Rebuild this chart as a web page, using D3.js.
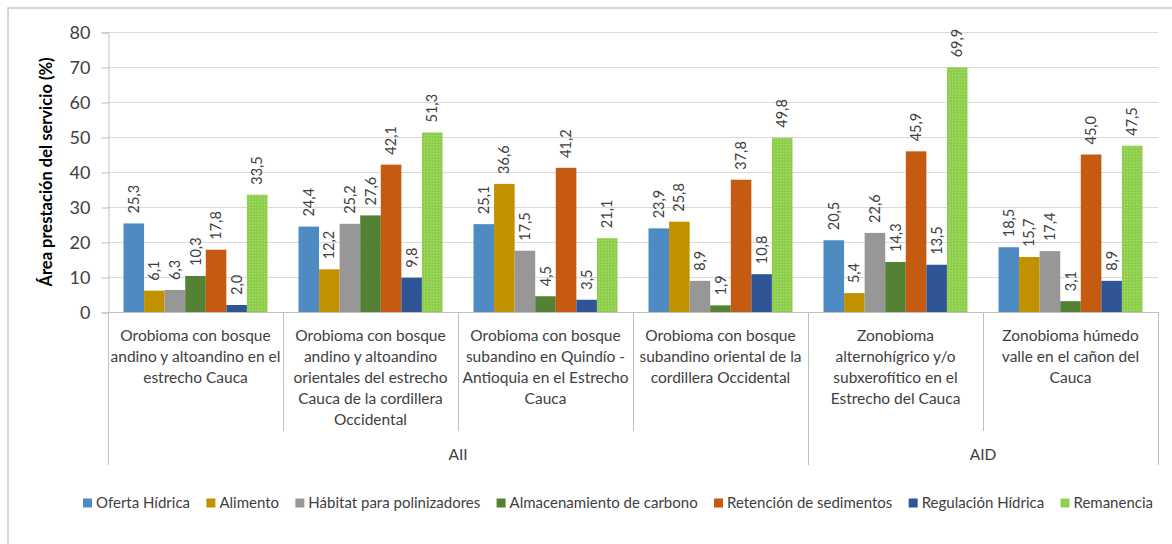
<!DOCTYPE html>
<html>
<head>
<meta charset="utf-8">
<script src="https://cdn.jsdelivr.net/npm/d3@7"></script>
<style>
  body { margin: 0; background: #fff; }
  svg { display: block; }
  text { font-family: Lato, "Open Sans", sans-serif; }
</style>
</head>
<body>
<svg id="svg" width="1172" height="544"></svg>
<script>
// categories (wrapped the way the picture wraps them)
var categories = [
  ["Orobioma con bosque", "andino y altoandino en el", "estrecho Cauca"],
  ["Orobioma con bosque", "andino y altoandino", "orientales del estrecho", "Cauca de la cordillera", "Occidental"],
  ["Orobioma con bosque", "subandino en Quindío -", "Antioquia en el Estrecho", "Cauca"],
  ["Orobioma con bosque", "subandino oriental de la", "cordillera Occidental"],
  ["Zonobioma", "alternohígrico y/o", "subxerofítico en el", "Estrecho del Cauca"],
  ["Zonobioma húmedo", "valle en el cañon del", "Cauca"]
];
var groups = ["AII", "AID"];
var groupSize = [4, 2];

var series = ["Oferta Hídrica", "Alimento", "Hábitat para polinizadores", "Almacenamiento de carbono",
              "Retención de sedimentos", "Regulación Hídrica", "Remanencia"];
var colors = ["#4f8bc3", "#c29100", "#979797", "#548235", "#c55a11", "#2f5597", "#92d050"];

var oferta     = [25.3, 24.4, 25.1, 23.9, 20.5, 18.5];
var alimento   = [6.1, 12.2, 36.6, 25.8, 5.4, 15.7];
var habitat    = [6.3, 25.2, 17.5, 8.9, 22.6, 17.4];
var carbono    = [10.3, 27.6, 4.5, 1.9, 14.3, 3.1];
var sedimentos = [17.8, 42.1, 41.2, 37.8, 45.9, 45.0];
var regulacion = [2.0, 9.8, 3.5, 10.8, 13.5, 8.9];
var remanencia = [33.5, 51.3, 21.1, 49.8, 69.9, 47.5];
var values = [oferta, alimento, habitat, carbono, sedimentos, regulacion, remanencia];

var yTicks = [0, 10, 20, 30, 40, 50, 60, 70, 80];

var svg = d3.select("#svg");
// plot box ("top" is taken by window.top, so prefixed names)
var pLeft = 108, pRight = 1158, pTop = 32, pBottom = 312;

// frame (only top and left edges show in the picture)
svg.append("path").attr("d", "M8,544V8H1172")
  .attr("fill", "none").attr("stroke", "#c8c8c8").attr("stroke-width", 1.5);

// hatch for Remanencia
var pat = svg.append("defs").append("pattern")
  .attr("id", "rem").attr("width", 3).attr("height", 3).attr("patternUnits", "userSpaceOnUse");
pat.append("rect").attr("width", 3).attr("height", 3).attr("fill", "#92d050");
pat.append("rect").attr("width", 1).attr("height", 1).attr("fill", "#a9dc70");
pat.append("rect").attr("x", 2).attr("y", 2).attr("width", 1).attr("height", 1).attr("fill", "#86c544");

var y = d3.scaleLinear().domain([0, 80]).range([pBottom, pTop]);
var x0 = d3.scaleBand().domain(d3.range(categories.length)).range([pLeft, pRight]);
var x1 = d3.scaleBand().domain(d3.range(series.length)).range([15.5, x0.bandwidth() - 15.5]);

// gridlines
svg.append("g").selectAll("line").data(yTicks.slice(1)).enter().append("line")
  .attr("x1", pLeft).attr("x2", pRight)
  .attr("y1", function(d) { return y(d) + 0.5; }).attr("y2", function(d) { return y(d) + 0.5; })
  .attr("stroke", "#dadada");

// y axis
var yAxis = svg.append("g").attr("transform", "translate(" + (pLeft + 0.5) + ",0.5)")
  .call(d3.axisLeft(y).tickValues(yTicks).tickSize(7).tickPadding(11));
yAxis.select(".domain").attr("stroke", "#bfbfbf");
yAxis.selectAll(".tick line").attr("stroke", "#bfbfbf");
yAxis.selectAll(".tick text").attr("font-family", "Lato, sans-serif").attr("font-size", 18).attr("fill", "#404040");

svg.append("text")
  .attr("transform", "translate(52," + ((pTop + pBottom) / 2) + ") rotate(-90)")
  .attr("text-anchor", "middle").attr("font-weight", "bold").attr("font-size", 16.5).attr("fill", "#000")
  .text("Área prestación del servicio (%)");

// bars
var fmt = d3.formatLocale({ decimal: ",", thousands: ".", grouping: [3], currency: ["", ""] }).format(".1f");
var cat = svg.append("g").selectAll("g").data(categories).enter().append("g")
  .attr("transform", function(d, i) { return "translate(" + x0(i) + ",0)"; });

cat.selectAll("rect").data(function(d, i) { return values.map(function(v, s) { return { s: s, v: v[i] }; }); })
  .enter().append("rect")
  .attr("x", function(d) { return x1(d.s); })
  .attr("width", x1.bandwidth())
  .attr("y", function(d) { return y(d.v); })
  .attr("height", function(d) { return y(0) - y(d.v); })
  .attr("fill", function(d) { return d.s == 6 ? "url(#rem)" : colors[d.s]; });

cat.selectAll("text.val").data(function(d, i) { return values.map(function(v, s) { return { s: s, v: v[i] }; }); })
  .enter().append("text").attr("class", "val")
  .attr("transform", function(d) {
    return "translate(" + (x1(d.s) + x1.bandwidth() / 2 + 5) + "," + (y(d.v) - 10) + ") rotate(-90)";
  })
  .attr("font-family", "'DejaVu Sans', sans-serif").attr("font-size", 14.5).attr("fill", "#404040")
  .text(function(d) { return fmt(d.v); });

// category axis
var axis = svg.append("g").attr("stroke", "#bfbfbf");
axis.append("line").attr("x1", pLeft).attr("x2", pRight).attr("y1", pBottom + 0.5).attr("y2", pBottom + 0.5);
axis.selectAll("line.sep").data(d3.range(1, categories.length)).enter().append("line").attr("class", "sep")
  .attr("x1", function(d) { return x0(d) + 0.5; }).attr("x2", function(d) { return x0(d) + 0.5; })
  .attr("y1", pBottom).attr("y2", 431);
var groupEdges = [0, groupSize[0], categories.length];
var edgeX = function(d) { return (d < categories.length ? x0(d) : pRight); };
axis.selectAll("line.grp").data(groupEdges).enter().append("line").attr("class", "grp")
  .attr("x1", function(d) { return edgeX(d) + 0.5; })
  .attr("x2", function(d) { return edgeX(d) + 0.5; })
  .attr("y1", pBottom).attr("y2", 465);

cat.append("text").attr("text-anchor", "middle").attr("font-size", 15.5).attr("fill", "#404040")
  .selectAll("tspan").data(function(d) { return d; }).enter().append("tspan")
  .attr("x", x0.bandwidth() / 2)
  .attr("y", function(d, i) { return 341 + i * 21; })
  .text(function(d) { return d; });

svg.append("g").selectAll("text").data(groups).enter().append("text")
  .attr("text-anchor", "middle").attr("font-size", 15.5).attr("fill", "#404040")
  .attr("x", function(d, i) { return (edgeX(groupEdges[i]) + edgeX(groupEdges[i + 1])) / 2; })
  .attr("y", 460)
  .text(function(d) { return d; });

// legend
var leg = svg.append("g").attr("transform", "translate(0,503)");
var items = leg.selectAll("g").data(series).enter().append("g");
items.append("rect").attr("x", 0).attr("y", -4.5).attr("width", 9).attr("height", 9)
  .attr("fill", function(d, i) { return colors[i]; });
items.append("text").attr("x", 13).attr("y", 5).attr("font-size", 15).attr("fill", "#404040")
  .text(function(d) { return d; });
var widths = [];
items.selectAll("text").each(function() { widths.push(this.getComputedTextLength() + 13); });
var total = d3.sum(widths);
var gap = (1070 - total) / (series.length - 1);
var pos = 83;
items.attr("transform", function(d, i) { var p = pos; pos += widths[i] + gap; return "translate(" + p + ",0)"; });
</script>
</body>
</html>
